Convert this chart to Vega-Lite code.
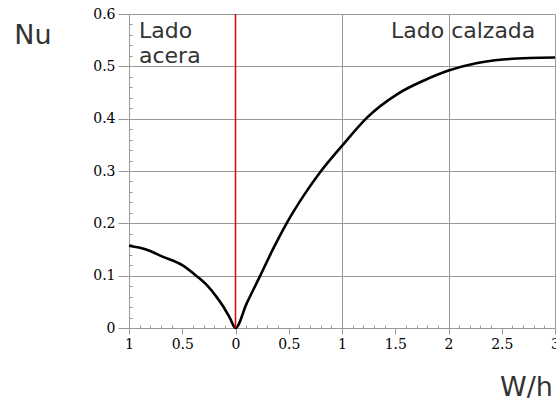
{
  "$schema": "https://vega.github.io/schema/vega-lite/v6.json",
  "width": 426,
  "height": 314,
  "autosize": {"type": "none"},
  "padding": {"left": 129, "top": 14, "right": 1, "bottom": 74},
  "background": "white",
  "config": {"view": {"stroke": null}},
  "datasets": {
    "curve": [
      {"x": -1, "y": 0.157},
      {"x": -0.84, "y": 0.15},
      {"x": -0.68, "y": 0.136},
      {"x": -0.5, "y": 0.12},
      {"x": -0.37, "y": 0.1},
      {"x": -0.26, "y": 0.08},
      {"x": -0.18, "y": 0.06},
      {"x": -0.115, "y": 0.041},
      {"x": -0.05, "y": 0.018},
      {"x": 0, "y": 0},
      {"x": 0.105, "y": 0.047},
      {"x": 0.23, "y": 0.099},
      {"x": 0.36, "y": 0.154},
      {"x": 0.485, "y": 0.202},
      {"x": 0.64, "y": 0.253},
      {"x": 0.8, "y": 0.299},
      {"x": 1.0, "y": 0.348},
      {"x": 1.235, "y": 0.402},
      {"x": 1.52, "y": 0.447},
      {"x": 1.77, "y": 0.473},
      {"x": 2.0, "y": 0.492},
      {"x": 2.26, "y": 0.506},
      {"x": 2.51, "y": 0.513},
      {"x": 2.76, "y": 0.516},
      {"x": 3.0, "y": 0.517}
    ],
    "divider": [{"x": 0}],
    "notes": [
      {"x": -0.906, "y": 0.554, "text": "Lado\nacera"},
      {"x": 1.46, "y": 0.554, "text": "Lado calzada"}
    ]
  },
  "layer": [
    {
      "data": {"name": "curve"},
      "mark": {"type": "line", "color": "black", "strokeWidth": 2.6, "interpolate": "monotone"},
      "encoding": {
        "x": {
          "field": "x",
          "type": "quantitative",
          "scale": {"domain": [-1, 3], "nice": false, "zero": false},
          "axis": {
            "values": [-1,-0.9,-0.8,-0.7,-0.6,-0.5,-0.4,-0.3,-0.2,-0.1,0,0.1,0.2,0.3,0.4,0.5,0.6,0.7,0.8,0.9,1,1.1,1.2,1.3,1.4,1.5,1.6,1.7,1.8,1.9,2,2.1,2.2,2.3,2.4,2.5,2.6,2.7,2.8,2.9,3],
            "tickCount": 200,
            "title": "W/h",
            "titleFont": "DejaVu Sans",
            "titleFontSize": 27,
            "titleFontWeight": "normal",
            "titleColor": "#333333",
            "titleX": 397,
            "titleY": 67,
            "titleAlign": "center",
            "titleBaseline": "alphabetic",
            "labelExpr": "abs(datum.value*2 - round(datum.value*2)) < 0.001 ? format(abs(datum.value), '~g') : ''",
            "labelFont": "DejaVu Serif",
            "labelFontSize": 14,
            "labelColor": "#000000",
            "labelPadding": 3,
            "labelFlush": false,
            "labelOverlap": false,
            "domainColor": "#999999",
            "tickColor": "#999999",
            "tickSize": {"condition": {"test": "abs(datum.value*2 - round(datum.value*2)) < 0.001", "value": 6}, "value": -3},
            "grid": true,
            "gridColor": "#999999",
            "gridOpacity": {"condition": {"test": "abs(datum.value - round(datum.value)) < 0.001 && abs(datum.value) > 0.001", "value": 1}, "value": 0}
          }
        },
        "y": {
          "field": "y",
          "type": "quantitative",
          "scale": {"domain": [0, 0.6], "nice": false},
          "axis": {
            "values": [0,0.02,0.04,0.06,0.08,0.1,0.12,0.14,0.16,0.18,0.2,0.22,0.24,0.26,0.28,0.3,0.32,0.34,0.36,0.38,0.4,0.42,0.44,0.46,0.48,0.5,0.52,0.54,0.56,0.58,0.6],
            "tickCount": 200,
            "title": "Nu",
            "titleFont": "DejaVu Sans",
            "titleFontSize": 27,
            "titleFontWeight": "normal",
            "titleColor": "#333333",
            "titleAngle": 0,
            "titleX": -96.5,
            "titleY": 29,
            "titleAlign": "center",
            "titleBaseline": "alphabetic",
            "labelExpr": "abs(datum.value*10 - round(datum.value*10)) < 0.001 ? format(datum.value, '~g') : ''",
            "labelFont": "DejaVu Serif",
            "labelFontSize": 14,
            "labelColor": "#000000",
            "labelPadding": 3,
            "labelFlush": false,
            "labelOverlap": false,
            "domainColor": "#999999",
            "tickColor": "#999999",
            "tickSize": {"condition": {"test": "abs(datum.value*10 - round(datum.value*10)) < 0.001", "value": 11}, "value": -3},
            "grid": true,
            "gridColor": "#999999",
            "gridOpacity": {"condition": {"test": "abs(datum.value*10 - round(datum.value*10)) < 0.001", "value": 1}, "value": 0}
          }
        }
      }
    },
    {
      "data": {"name": "divider"},
      "mark": {"type": "rule", "color": "#e00000", "strokeWidth": 1.5},
      "encoding": {"x": {"field": "x", "type": "quantitative"}}
    },
    {
      "data": {"name": "notes"},
      "mark": {"type": "text", "align": "left", "baseline": "alphabetic", "font": "DejaVu Sans", "fontSize": 22, "color": "#333333", "lineBreak": "\n", "lineHeight": 25},
      "encoding": {
        "x": {"field": "x", "type": "quantitative"},
        "y": {"field": "y", "type": "quantitative"},
        "text": {"field": "text", "type": "nominal"}
      }
    }
  ]
}
